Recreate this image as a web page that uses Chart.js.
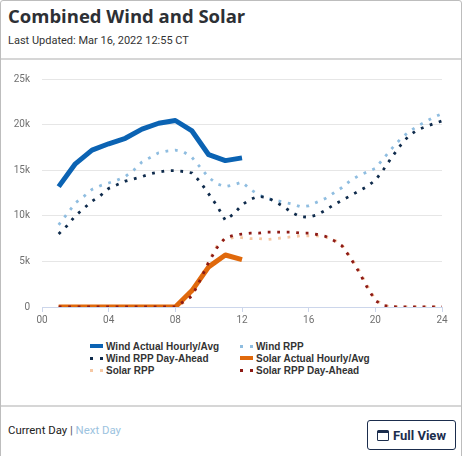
<!DOCTYPE html>
<html>
<head>
<meta charset="utf-8">
<script src="https://cdn.jsdelivr.net/npm/chart.js@4.4.1/dist/chart.umd.min.js"></script>
<style>
  body { margin: 0; background: #fff; font-family: Roboto, sans-serif; }
  #card { position: absolute; left: 0; top: 0; width: 460px; height: 470px; border: 1px solid #bdbdbd; border-radius: 3px; }
  #title { position: absolute; left: 8px; top: 3px; font: bold 18.5px "Open Sans", sans-serif; color: #2d3035; white-space: nowrap; }
  #updated { position: absolute; left: 8px; top: 34px; font-size: 11px; color: #333; white-space: nowrap; }
  .sep { position: absolute; left: 1px; width: 460px; background: #d6d6d6; }
  #chartBox { position: absolute; left: 0; top: 60px; width: 464px; height: 275px; }
  #legend { position: absolute; left: 90px; top: 340px; display: grid; grid-template-columns: 150px 150px; grid-auto-rows: 12.3px; }
  .item { display: flex; align-items: center; font: bold 10px "Liberation Sans", Arial, sans-serif; color: #333; white-space: nowrap; }
  .sym { position: relative; width: 16px; height: 6px; margin-right: 0; }
  .bar { position: absolute; left: 0; top: 1px; width: 13px; height: 4px; }
  .dot { position: absolute; top: 1.5px; width: 3px; height: 3px; }
  #footer { position: absolute; left: 8px; top: 423px; font-size: 11.4px; color: #222; white-space: nowrap; }
  #footer .next { color: #9cc3e0; }
  #btn { position: absolute; left: 367px; top: 420px; width: 87px; height: 28px; border: 1.5px solid #1b2d4d; border-radius: 3px;
         display: flex; align-items: center; justify-content: center; font: bold 13px Roboto, sans-serif; color: #1b2d4d; }
  #cal { width: 10px; height: 7px; border: 1.5px solid #1b2d4d; border-top-width: 3.5px; border-radius: 1.5px; margin-right: 4px; }
</style>
</head>
<body>
<div id="card"></div>
<div id="title">Combined Wind and Solar</div>
<div id="updated">Last Updated: Mar 16, 2022 12:55 CT</div>
<div class="sep" style="top:58px;height:1.5px"></div>
<div id="chartBox"><canvas id="windSolar" width="464" height="275"></canvas></div>
<div id="legend"></div>
<div class="sep" style="top:405px;height:1.5px"></div>
<div id="footer">Current Day <span style="color:#555">|</span> <span class="next">Next Day</span></div>
<div id="btn"><div id="cal"></div>Full View</div>
<script>
  const hoursActual = [1, 2, 3, 4, 5, 6, 7, 8, 9, 10, 11, 12];
  const windActual = [13200, 15700, 17200, 17900, 18500, 19500, 20150, 20450, 19300, 16700, 16050, 16350];
  const solarActual = [0, 0, 0, 0, 0, 0, 0, 0, 1800, 4400, 5700, 5200];

  const hoursForecast = [1, 1.5, 2, 2.5, 3, 3.5, 4, 4.5, 5, 5.5, 6, 6.5, 7, 7.5, 8, 8.5, 9, 9.5, 10, 10.5, 11, 11.5,
    12, 12.5, 13, 13.5, 14, 14.5, 15, 15.5, 16, 16.5, 17, 17.5, 18, 18.5, 19, 19.5, 20, 20.5, 21, 21.5, 22, 22.5,
    23, 23.5, 24];
  const windRpp = [9000, 10200, 11400, 12100, 12900, 13300, 13600, 13900, 14300, 15000, 15900, 16400, 16900, 17100,
    17200, 17000, 16400, 15300, 14200, 13500, 13200, 13400, 13700, 12900, 12300, 11900, 11700, 11500, 11300, 11000,
    11100, 11500, 11900, 12500, 13100, 13850, 14400, 14800, 15200, 16300, 17400, 18400, 19200, 19800, 20300, 20800, 21200];
  const windRppDa = [8000, 8900, 10000, 10800, 11600, 12200, 13000, 13400, 13800, 14050, 14300, 14600, 14800, 14950,
    14950, 14850, 14700, 13700, 12400, 11100, 9500, 10200, 11200, 11800, 12150, 12000, 11550, 11000, 10350, 9900,
    9850, 10100, 10600, 11200, 11700, 12200, 12700, 13200, 13900, 15100, 16450, 17700, 18750, 19400, 19750, 20100, 20400];
  const solarRpp = [0, 0, 0, 0, 0, 0, 0, 0, 0, 0, 0, 0, 0, 0, 0, 500, 1300, 3100, 5000, 6700, 7500, 7600, 7600, 7500,
    7500, 7400, 7500, 7600, 7700, 7800, 7800, 7800, 7700, 7400, 6800, 5500, 4100, 2400, 800, 200, 0, 0, 0, 0, 0, 0, 0];
  const solarRppDa = [0, 0, 0, 0, 0, 0, 0, 0, 0, 0, 0, 0, 0, 0, 0, 600, 1200, 3000, 4900, 6500, 7600, 7850, 8000, 8100,
    8100, 8200, 8200, 8200, 8200, 8100, 8100, 7950, 7750, 7300, 6700, 5400, 3900, 2200, 700, 150, 50, 0, 0, 0, 0, 0, 0];

  const xTicks = [0, 4, 8, 12, 16, 20, 24];
  const yTicks = [0, 5000, 10000, 15000, 20000, 25000];

  const pts = (xs, ys) => xs.map((x, i) => ({ x: x, y: ys[i] }));
  const solid = (label, xs, ys, color, order) => ({
    label, data: pts(xs, ys), borderColor: color, backgroundColor: color, borderWidth: 5,
    borderJoinStyle: 'round', pointRadius: 0, order, dotted: false
  });
  const dotted = (label, xs, ys, color, order) => ({
    label, data: pts(xs, ys), borderColor: color, backgroundColor: color, borderWidth: 2.8,
    borderDash: [2.8, 6.7], borderCapStyle: 'butt', pointRadius: 0, order, dotted: true
  });

  const datasets = [
    solid('Wind Actual Hourly/Avg', hoursActual, windActual, '#0b63b3', 1),
    dotted('Wind RPP', hoursForecast, windRpp, '#8fbde0', 4),
    dotted('Wind RPP Day-Ahead', hoursForecast, windRppDa, '#0f2b4c', 3),
    solid('Solar Actual Hourly/Avg', hoursActual, solarActual, '#e0690c', 5),
    dotted('Solar RPP', hoursForecast, solarRpp, '#f6c8a4', 6),
    dotted('Solar RPP Day-Ahead', hoursForecast, solarRppDa, '#8e1b16', 2)
  ];

  const ctx = document.getElementById('windSolar');
  new Chart(ctx, {
    type: 'line',
    data: { datasets: datasets },
    options: {
      responsive: false,
      animation: false,
      layout: { padding: { left: 0, right: 22, top: 19, bottom: 3 } },
      plugins: { legend: { display: false }, tooltip: { enabled: false } },
      scales: {
        x: {
          type: 'linear', min: 0, max: 24,
          afterBuildTicks: (axis) => { axis.ticks = xTicks.map(v => ({ value: v })); },
          afterFit: (axis) => { axis.height = 25; },
          border: { color: '#ccd6eb' },
          grid: { drawOnChartArea: false, drawTicks: true, tickLength: 5, color: '#ccd6eb' },
          ticks: { padding: 2, color: '#707070', font: { family: 'Roboto', size: 10 },
                   maxRotation: 0, callback: v => String(v).padStart(2, '0') }
        },
        y: {
          min: 0, max: 25000,
          afterBuildTicks: (axis) => { axis.ticks = yTicks.map(v => ({ value: v })); },
          afterFit: (axis) => { axis.width = 42; },
          border: { display: false },
          grid: { color: '#e6e6e6', drawTicks: false },
          ticks: { padding: 12, color: '#707070', font: { family: 'Roboto', size: 10 },
                   callback: v => v === 0 ? '0' : (v / 1000) + 'k' }
        }
      }
    }
  });

  // legend in two columns, built from the datasets
  const legend = document.getElementById('legend');
  datasets.forEach(ds => {
    const item = document.createElement('div');
    item.className = 'item';
    const sym = document.createElement('div');
    sym.className = 'sym';
    if (ds.dotted) {
      [0, 9.5].forEach(left => {
        const d = document.createElement('div');
        d.className = 'dot';
        d.style.left = left + 'px';
        d.style.background = ds.borderColor;
        sym.appendChild(d);
      });
    } else {
      const b = document.createElement('div');
      b.className = 'bar';
      b.style.background = ds.borderColor;
      sym.appendChild(b);
    }
    item.appendChild(sym);
    item.appendChild(document.createTextNode(ds.label));
    legend.appendChild(item);
  });
</script>
</body>
</html>
